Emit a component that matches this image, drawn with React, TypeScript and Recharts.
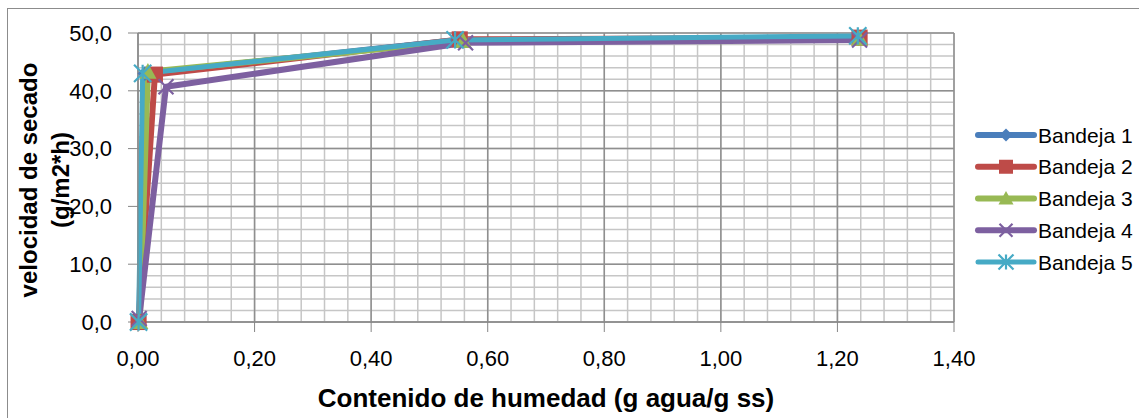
import React from 'react';
import { LineChart, Line, XAxis, YAxis, CartesianGrid } from 'recharts';

// ---- data ----
const seriesNames = ['Bandeja 1', 'Bandeja 2', 'Bandeja 3', 'Bandeja 4', 'Bandeja 5'];
const seriesColors = ['#4A7EBB', '#BE4B48', '#98B954', '#7D60A0', '#46AAC5'];

const b1X = [0.002, 0.012, 0.548, 1.236];
const b1Y = [0.0, 43.0, 48.8, 49.1];
const b2X = [0.001, 0.029, 0.552, 1.238];
const b2Y = [0.0, 42.8, 48.9, 49.2];
const b3X = [0.003, 0.017, 0.558, 1.238];
const b3Y = [0.0, 43.3, 48.6, 49.0];
const b4X = [0.002, 0.048, 0.562, 1.238];
const b4Y = [0.6, 40.7, 48.3, 48.8];
const b5X = [0.001, 0.008, 0.544, 1.235];
const b5Y = [0.0, 43.0, 48.8, 49.5];

const xTicks = [0, 0.2, 0.4, 0.6, 0.8, 1.0, 1.2, 1.4];
const xMinor = [0, 0.04, 0.08, 0.12, 0.16, 0.2, 0.24, 0.28, 0.32, 0.36, 0.4, 0.44, 0.48, 0.52, 0.56, 0.6, 0.64, 0.68, 0.72, 0.76, 0.8, 0.84, 0.88, 0.92, 0.96, 1.0, 1.04, 1.08, 1.12, 1.16, 1.2, 1.24, 1.28, 1.32, 1.36, 1.4];
const yTicks = [0, 10, 20, 30, 40, 50];
const yMinor = [0, 2, 4, 6, 8, 10, 12, 14, 16, 18, 20, 22, 24, 26, 28, 30, 32, 34, 36, 38, 40, 42, 44, 46, 48, 50];

const xTitle = 'Contenido de humedad (g agua/g ss)';
const yTitle1 = 'velocidad de secado';
const yTitle2 = '(g/m2*h)';

const toPts = (xs: number[], ys: number[]) => xs.map((x, i) => ({ x, y: ys[i] }));
const seriesData = [toPts(b1X, b1Y), toPts(b2X, b2Y), toPts(b3X, b3Y), toPts(b4X, b4Y), toPts(b5X, b5Y)];
const lineWidths = [6, 6, 6, 6, 5];

const FONT = '"Liberation Sans", Arial, sans-serif';

function Marker({ kind, cx, cy, color, big }: { kind: number; cx: number; cy: number; color: string; big?: boolean }) {
  const k = big ? 1.15 : 1;
  if (kind === 0) {
    const r = 6.5 * k;
    return <path d={`M${cx},${cy - r}L${cx + r},${cy}L${cx},${cy + r}L${cx - r},${cy}Z`} fill={color} />;
  }
  if (kind === 1) {
    const h = 7 * k;
    return <rect x={cx - h} y={cy - h} width={2 * h} height={2 * h} fill={color} />;
  }
  if (kind === 2) {
    const h = 7.5 * k;
    return <path d={`M${cx},${cy - h}L${cx + h},${cy + h * 0.8}L${cx - h},${cy + h * 0.8}Z`} fill={color} />;
  }
  if (kind === 3) {
    const h = 6.5 * k;
    return (
      <path d={`M${cx - h},${cy - h}L${cx + h},${cy + h}M${cx + h},${cy - h}L${cx - h},${cy + h}`} stroke={color} strokeWidth={2.2} fill="none" />
    );
  }
  const h = 7.5 * k;
  return (
    <path
      d={`M${cx - h},${cy - h}L${cx + h},${cy + h}M${cx + h},${cy - h}L${cx - h},${cy + h}M${cx},${cy - h}L${cx},${cy + h}`}
      stroke={color}
      strokeWidth={2.2}
      fill="none"
    />
  );
}

const fmtX = (v: number) => v.toFixed(2).replace('.', ',');
const fmtY = (v: number) => v.toFixed(1).replace('.', ',');

const scaleOr = (axis: any, fallback: (v: number) => number) =>
  axis && typeof axis.scale === 'function' ? (v: number) => axis.scale(v) : fallback;

function makeVGen(vals: number[]) {
  return (props: any) => {
    const { xAxis, offset } = props;
    const s = scaleOr(xAxis, (v: number) => offset.left + (v / 1.4) * offset.width);
    return vals.map((v) => s(v));
  };
}
function makeHGen(vals: number[]) {
  return (props: any) => {
    const { yAxis, offset } = props;
    const s = scaleOr(yAxis, (v: number) => offset.top + offset.height - (v / 50) * offset.height);
    return vals.map((v) => s(v));
  };
}

function LegendBox() {
  return (
    <svg width={168} height={170} style={{ display: 'block' }}>
      {seriesNames.map((name, i) => {
        const cy = 20 + i * 31.75;
        return (
          <g key={name}>
            <line x1={8} x2={64} y1={cy} y2={cy} stroke={seriesColors[i]} strokeWidth={lineWidths[i]} strokeLinecap="round" />
            <Marker kind={i} cx={36} cy={cy} color={seriesColors[i]} />
            <text x={68} y={cy} dominantBaseline="central" fontFamily={FONT} fontSize={21} fill="#000">
              {name}
            </text>
          </g>
        );
      })}
    </svg>
  );
}

function YTitle() {
  return (
    <g>
      <text x={28} y={180} transform="rotate(-90 28 180)" textAnchor="middle" dominantBaseline="central" fontFamily={FONT} fontSize={24} fontWeight="bold" fill="#000">
        {yTitle1}
      </text>
      <text x={60} y={180} transform="rotate(-90 60 180)" textAnchor="middle" dominantBaseline="central" fontFamily={FONT} fontSize={24} fontWeight="bold" fill="#000">
        {yTitle2}
      </text>
    </g>
  );
}

function XTitle() {
  return (
    <text x={546} y={398} textAnchor="middle" dominantBaseline="central" fontFamily={FONT} fontSize={26} fontWeight="bold" fill="#000">
      {xTitle}
    </text>
  );
}

export default function App() {
  return (
    <div style={{ position: 'absolute', left: 0, top: 0, width: 1139, height: 418, overflow: 'hidden', background: '#fff' }}>
      <div style={{ position: 'absolute', left: 7, top: 8, width: 1150, height: 430, border: '1px solid #8c8c8c', boxSizing: 'border-box' }} />
      <div style={{ position: 'absolute', left: 0, top: 0 }}>
        <LineChart width={1139} height={418} margin={{ top: 33, right: 185, bottom: 0, left: 0 }}>
          <CartesianGrid
            stroke="#c6c6c6"
            strokeWidth={1.5}
            strokeDasharray="0"
            verticalCoordinatesGenerator={makeVGen(xMinor)}
            horizontalCoordinatesGenerator={makeHGen(yMinor)}
          />
          <CartesianGrid
            stroke="#8f8f8f"
            strokeWidth={1.5}
            strokeDasharray="0"
            verticalCoordinatesGenerator={makeVGen(xTicks)}
            horizontalCoordinatesGenerator={makeHGen(yTicks)}
          />
          <XAxis
            dataKey="x"
            type="number"
            domain={[0, 1.4]}
            ticks={xTicks}
            tickFormatter={fmtX}
            height={96}
            tickSize={10}
            tickMargin={18}
            stroke="#868686"
            tick={{ fill: '#000', fontSize: 22, fontFamily: FONT }}
            label={{ content: () => <XTitle /> }}
          />
          <YAxis
            type="number"
            domain={[0, 50]}
            ticks={yTicks}
            tickFormatter={fmtY}
            width={138}
            tickSize={10}
            tickMargin={16}
            stroke="#868686"
            tick={{ fill: '#000', fontSize: 22, fontFamily: FONT }}
            label={{ content: () => <YTitle /> }}
          />
          {seriesData.map((d, i) => (
            <Line
              key={seriesNames[i]}
              data={d}
              dataKey="y"
              name={seriesNames[i]}
              type="linear"
              stroke={seriesColors[i]}
              strokeWidth={lineWidths[i]}
              strokeLinejoin="round"
              strokeLinecap="round"
              isAnimationActive={false}
              activeDot={false}
              dot={(p: any) => <Marker key={`${i}-${p.index}`} kind={i} cx={p.cx} cy={p.cy} color={seriesColors[i]} big />}
            />
          ))}
        </LineChart>
      </div>
      <div style={{ position: 'absolute', left: 970, top: 115 }}>
        <LegendBox />
      </div>
    </div>
  );
}
